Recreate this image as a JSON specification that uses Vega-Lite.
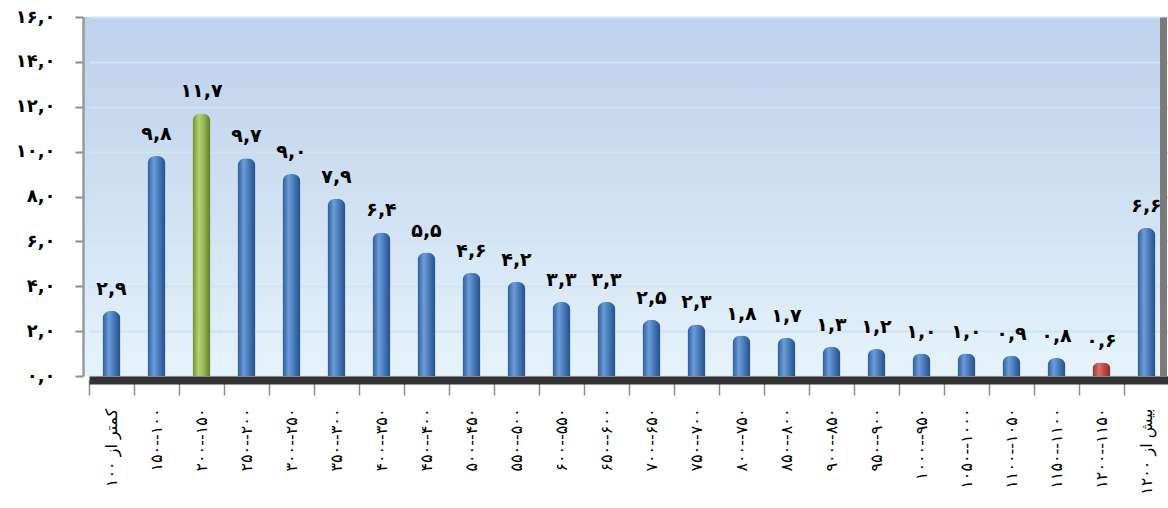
{
  "$schema": "https://vega.github.io/schema/vega-lite/v6.json",
  "autosize": {"type": "none"},
  "width": 1077,
  "height": 359,
  "padding": {"left": 83, "top": 17, "right": 8, "bottom": 132},
  "background": "white",
  "config": {
    "font": "DejaVu Sans",
    "view": {
      "stroke": null,
      "fill": {"gradient": "linear", "x1": 0, "y1": 0, "x2": 0, "y2": 1,
        "stops": [{"offset": 0, "color": "#bdd1eb"}, {"offset": 0.5, "color": "#cfe0f2"}, {"offset": 1, "color": "#e6f3fb"}]}
    }
  },
  "data": {
    "values": [
      {"range": "کمتر از ۱۰۰", "value": 2.9, "label": "۲,۹"},
      {"range": "۱۵۰--۱۰۰", "value": 9.8, "label": "۹,۸"},
      {"range": "۲۰۰--۱۵۰", "value": 11.7, "label": "۱۱,۷"},
      {"range": "۲۵۰--۲۰۰", "value": 9.7, "label": "۹,۷"},
      {"range": "۳۰۰--۲۵۰", "value": 9.0, "label": "۹,۰"},
      {"range": "۳۵۰--۳۰۰", "value": 7.9, "label": "۷,۹"},
      {"range": "۴۰۰--۳۵۰", "value": 6.4, "label": "۶,۴"},
      {"range": "۴۵۰--۴۰۰", "value": 5.5, "label": "۵,۵"},
      {"range": "۵۰۰--۴۵۰", "value": 4.6, "label": "۴,۶"},
      {"range": "۵۵۰--۵۰۰", "value": 4.2, "label": "۴,۲"},
      {"range": "۶۰۰--۵۵۰", "value": 3.3, "label": "۳,۳"},
      {"range": "۶۵۰--۶۰۰", "value": 3.3, "label": "۳,۳"},
      {"range": "۷۰۰--۶۵۰", "value": 2.5, "label": "۲,۵"},
      {"range": "۷۵۰--۷۰۰", "value": 2.3, "label": "۲,۳"},
      {"range": "۸۰۰--۷۵۰", "value": 1.8, "label": "۱,۸"},
      {"range": "۸۵۰--۸۰۰", "value": 1.7, "label": "۱,۷"},
      {"range": "۹۰۰--۸۵۰", "value": 1.3, "label": "۱,۳"},
      {"range": "۹۵۰--۹۰۰", "value": 1.2, "label": "۱,۲"},
      {"range": "۱۰۰۰--۹۵۰", "value": 1.0, "label": "۱,۰"},
      {"range": "۱۰۵۰--۱۰۰۰", "value": 1.0, "label": "۱,۰"},
      {"range": "۱۱۰۰--۱۰۵۰", "value": 0.9, "label": "۰,۹"},
      {"range": "۱۱۵۰--۱۱۰۰", "value": 0.8, "label": "۰,۸"},
      {"range": "۱۲۰۰--۱۱۵۰", "value": 0.6, "label": "۰,۶"},
      {"range": "بیش از ۱۲۰۰", "value": 6.6, "label": "۶,۶"}
    ]
  },
  "encoding": {
    "x": {
      "field": "range", "type": "nominal", "sort": null,
      "scale": {"range": [6, 1086], "paddingInner": 0, "paddingOuter": 0},
      "axis": {
        "title": null, "labelAngle": 270, "labelFontSize": 16, "labelColor": "#000",
        "labelPadding": 13, "tickSize": 15, "tickColor": "#8c8c8c", "tickWidth": 1.5, "tickBand": "extent",
        "domainColor": "#333333", "domainWidth": 8, "offset": 4, "grid": false, "labelLimit": 200
      }
    },
    "y": {
      "field": "value", "type": "quantitative",
      "scale": {"domain": [0, 16], "nice": false}
    }
  },
  "layer": [
    {
      "mark": {"type": "bar", "width": 18, "cornerRadiusTopLeft": 8, "cornerRadiusTopRight": 8},
      "encoding": {
        "y": {
          "field": "value", "type": "quantitative",
          "axis": {
            "title": null, "values": [0, 2, 4, 6, 8, 10, 12, 14, 16],
            "labelExpr": "['۰,۰','۲,۰','۴,۰','۶,۰','۸,۰','۱۰,۰','۱۲,۰','۱۴,۰','۱۶,۰'][round(datum.value/2)]",
            "labelFontSize": 18, "labelFontWeight": "bold", "labelColor": "#000", "labelPadding": 20,
            "tickSize": 8, "tickColor": "#8c8c8c", "tickWidth": 2,
            "domainColor": "#9a9a9a", "domainWidth": 2.5,
            "grid": true, "gridColor": "#d3e2f3", "gridWidth": 2
          }
        },
        "color": {
          "condition": [
            {"test": "datum.range === '۲۰۰--۱۵۰'", "value": {"gradient": "linear", "x1": 0, "y1": 0, "x2": 1, "y2": 0,
              "stops": [{"offset": 0, "color": "#6f8f2e"}, {"offset": 0.35, "color": "#b5d26e"}, {"offset": 0.6, "color": "#9bbb59"}, {"offset": 1, "color": "#5d7a24"}]}},
            {"test": "datum.range === '۱۲۰۰--۱۱۵۰'", "value": {"gradient": "linear", "x1": 0, "y1": 0, "x2": 1, "y2": 0,
              "stops": [{"offset": 0, "color": "#93302d"}, {"offset": 0.35, "color": "#dc6e6b"}, {"offset": 0.6, "color": "#c0504d"}, {"offset": 1, "color": "#8a2a27"}]}}
          ],
          "value": {"gradient": "linear", "x1": 0, "y1": 0, "x2": 1, "y2": 0,
            "stops": [{"offset": 0, "color": "#2b5a96"}, {"offset": 0.35, "color": "#6d9dd8"}, {"offset": 0.6, "color": "#4a7ebf"}, {"offset": 1, "color": "#244e86"}]}
        }
      }
    },
    {
      "mark": {"type": "text", "dy": -22, "fontSize": 19, "fontWeight": "bold", "color": "#000", "baseline": "middle"},
      "encoding": {
        "text": {"field": "label"},
        "y": {
          "field": "value", "type": "quantitative",
          "axis": {"orient": "right", "title": null, "labels": false, "ticks": false, "grid": false,
            "domainColor": "#7a7a7a", "domainWidth": 7, "offset": 3}
        }
      }
    }
  ],
  "resolve": {"axis": {"y": "independent"}}
}
